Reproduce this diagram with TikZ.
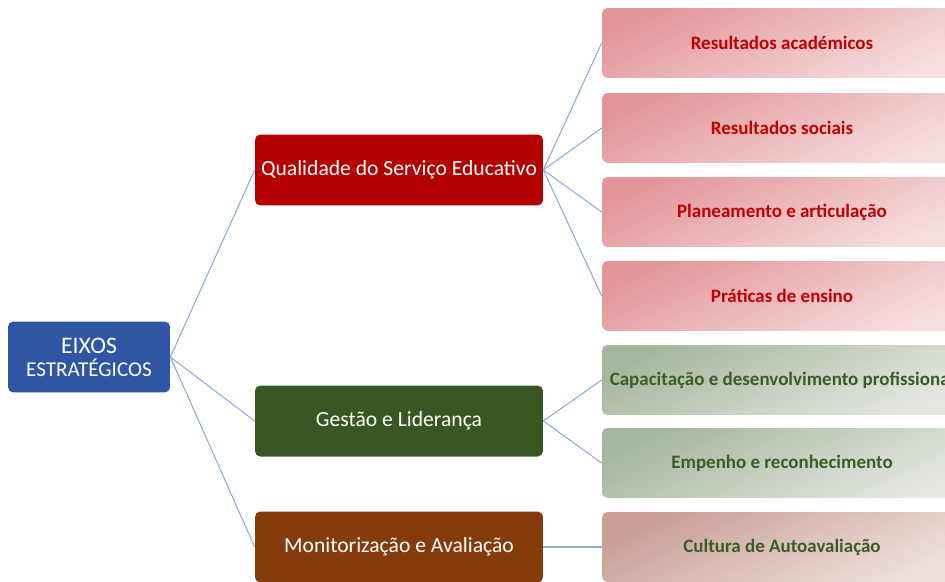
\documentclass[tikz,border=0pt]{standalone}
\usepackage{fontspec}
\setmainfont{Carlito}
\usepackage{tikz}
\definecolor{rootblue}{RGB}{47, 85, 164}
\definecolor{qualred}{RGB}{180, 0, 0}
\definecolor{gestgreen}{RGB}{56, 87, 35}
\definecolor{monbrown}{RGB}{132, 60, 12}
\definecolor{linkblue}{RGB}{143, 170, 220}
\definecolor{redtext}{RGB}{192, 0, 0}
\definecolor{greentext}{RGB}{58, 94, 37}
\tikzset{
	axis/.style={draw=none, rounded corners=3pt, minimum height=1.42cm, align=center, inner xsep=1pt},
	eixo/.style={axis, minimum width=5.76cm, text=white, font=\fontsize{12.3}{14}\selectfont},
	item/.style={axis, minimum width=7.2cm, minimum height=1.4cm, font=\fontsize{10.8}{12}\selectfont\bfseries},
	reditem/.style={item, text=redtext, top color={rgb,255:red,226;green,150;blue,154}, bottom color={rgb,255:red,246;green,222;blue,223}, shading angle=25},
	greenitem/.style={item, text=greentext, top color={rgb,255:red,166;green,182;blue,158}, bottom color={rgb,255:red,228;green,231;blue,225}, shading angle=25},
	brownitem/.style={item, text=greentext, top color={rgb,255:red,200;green,158;blue,150}, bottom color={rgb,255:red,240;green,224;blue,221}, shading angle=25},
	link/.style={draw=linkblue, line width=0.6pt}
}

\begin{document}
\begin{tikzpicture}[x=0.02cm, y=-0.02cm]
	\useasboundingbox (0,0) rectangle (945,581);
	\clip (0,0) rectangle (945,581);

	% eixos
	\node[axis, fill=rootblue, minimum width=3.24cm, text=white] (eixos) at (89,357)
		{{\fontsize{13.5}{15}\selectfont EIXOS}\\[1pt]{\fontsize{12}{14}\selectfont ESTRATÉGICOS}};
	\node[eixo, fill=qualred] (qual) at (399,170) {Qualidade do Serviço Educativo};
	\node[eixo, fill=gestgreen] (gest) at (399,421) {Gestão e Liderança};
	\node[eixo, fill=monbrown] (mon) at (399,547) {Monitorização e Avaliação};

	% itens
	\node[reditem] (acad) at (782,43) {Resultados académicos};
	\node[reditem] (soc) at (782,128) {Resultados sociais};
	\node[reditem] (plan) at (782,212) {Planeamento e articulação};
	\node[reditem] (prat) at (782,296) {Práticas de ensino};
	\node[greenitem] (capa) at (782,380) {Capacitação e desenvolvimento profissional};
	\node[greenitem] (emp) at (782,463) {Empenho e reconhecimento};
	\node[brownitem] (cult) at (782,547) {Cultura de Autoavaliação};

	% ligacoes
	\foreach \b in {qual,gest,mon}
		\draw[link] (eixos.east) -- (\b.west);
	\foreach \b in {acad,soc,plan,prat}
		\draw[link] (qual.east) -- (\b.west);
	\foreach \b in {capa,emp}
		\draw[link] (gest.east) -- (\b.west);
	\draw[link] (mon.east) -- (cult.west);
\end{tikzpicture}
\end{document}
